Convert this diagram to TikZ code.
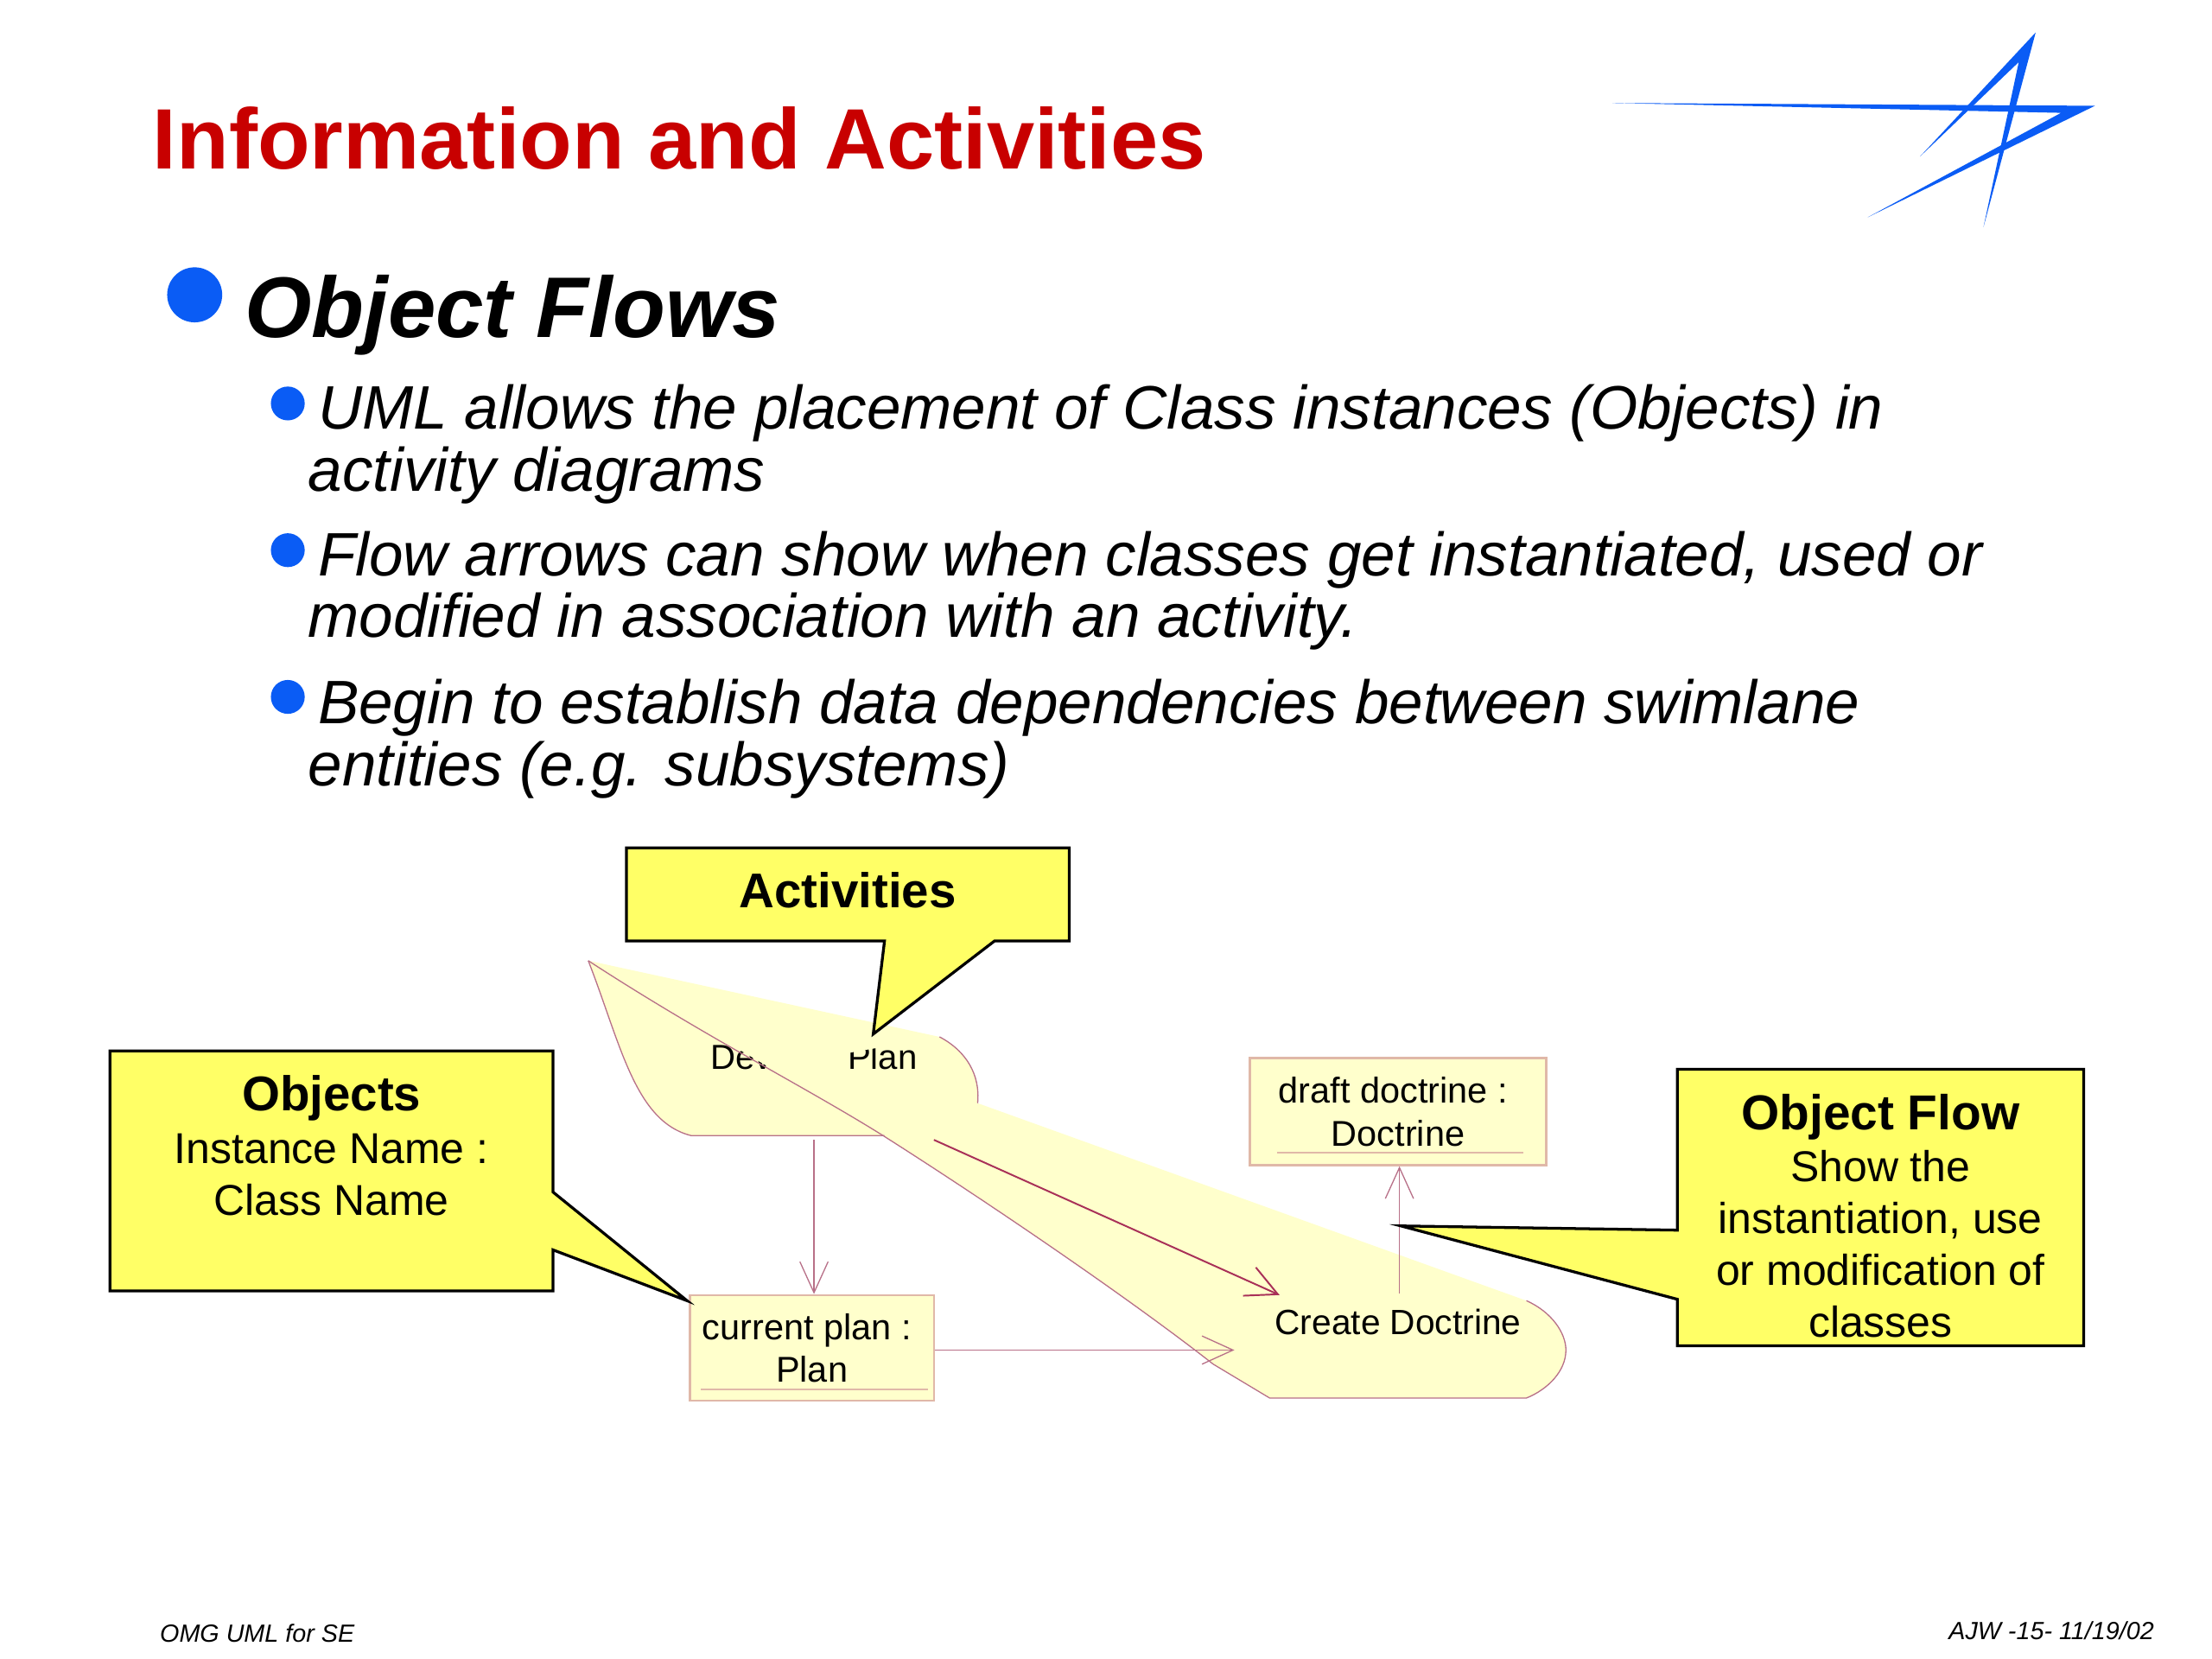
\documentclass[tikz,border=0pt]{standalone}
\usepackage{fontspec}
\setmainfont{Liberation Sans}
\usetikzlibrary{arrows.meta}
\definecolor{titlered}{HTML}{C80000}
\definecolor{bulletblue}{HTML}{0A5CF5}
\definecolor{calloutyellow}{HTML}{FFFF66}
\definecolor{paleyellow}{HTML}{FFFFCC}
\definecolor{umlline}{HTML}{B87088}
\definecolor{boxline}{HTML}{E0B8A8}
\definecolor{flowred}{HTML}{A83058}
\newcommand{\fs}[2]{\fontsize{#1}{#2}\selectfont}
\tikzset{
  x=0.5pt,y=-0.5pt,
  txt/.style={inner sep=0pt,anchor=base west,text=black},
  titletxt/.style={txt,font=\fs{30.4}{36}\bfseries,text=titlered},
  headtxt/.style={txt,font=\fs{30.5}{36}\bfseries\itshape},
  bodytxt/.style={txt,font=\fs{21.75}{22.5}\itshape},
  foottxt/.style={txt,font=\fs{8.8}{10}\itshape},
  bigbullet/.style={circle,fill=bulletblue,inner sep=0pt,minimum size=19.5pt},
  smallbullet/.style={circle,fill=bulletblue,inner sep=0pt,minimum size=12pt},
  callout/.style={draw=black,fill=calloutyellow,line width=1pt,line join=miter},
  callouttxt/.style={inner sep=0pt,anchor=north,align=center,text=black},
  objbox/.style={draw=boxline,fill=paleyellow,line width=0.7pt,inner sep=0pt,align=center,font=\fs{12.7}{15.2}},
  acttxt/.style={inner sep=0pt,anchor=base,text=black},
  umledge/.style={draw=umlline,line width=0.4pt},
  underl/.style={draw=boxline,line width=0.8pt},
  flow/.style={draw=umlline,line width=0.4pt,-{Straight Barb[length=11pt,width=10pt]}},
  strongflow/.style={draw=flowred,line width=0.6pt,-{Straight Barb[length=11pt,width=11pt]}},
  logo/.style={fill=bulletblue,draw=none}
}
\begin{document}
\begin{tikzpicture}
\useasboundingbox (0,0) rectangle (1568,1176);
\fill[white] (0,0) rectangle (1568,1176);
% logo
\fill[logo] (1143,73) -- (1485,75) -- (1324,154) -- (1461,80) -- cycle;
\fill[logo] (1361,111) -- (1443,23) -- (1406,161) -- (1431,44) -- cycle;
% headings
\node[titletxt] (title) at (108,120) {Information and Activities};
\node[bigbullet] (b0) at (138,209) {};
\node[headtxt] (head) at (173,239) {Object Flows};
\node[smallbullet] (b1) at (204,286) {};
\node[bodytxt] (l1) at (225,304) {UML allows the placement of Class instances (Objects) in};
\node[bodytxt] (l2) at (218,348) {activity diagrams};
\node[smallbullet] (b2) at (204,390) {};
\node[bodytxt] (l3) at (225,408) {Flow arrows can show when classes get instantiated, used or};
\node[bodytxt] (l4) at (218,452) {modified in association with an activity.};
\node[smallbullet] (b3) at (204,494) {};
\node[bodytxt] (l5) at (225,513) {Begin to establish data dependencies between swimlane};
\node[bodytxt] (l6) at (218,557) {entities (e.g. subsystems)};
% activity shapes
\fill[paleyellow] (417,681) .. controls (440,740) and (450,795) .. (490,805) -- (627,805) -- cycle;
\fill[paleyellow] (417,681) -- (666,735) .. controls (685,745) and (695,762) .. (693,782) -- (1082,922) .. controls (1100,930) and (1110,945) .. (1110,957)
  .. controls (1110,972) and (1097,985) .. (1082,991) -- (900,991) -- (860,967) .. controls (800,920) and (700,852) .. (626,805) .. controls (570,770) and (500,735) .. (417,681) -- cycle;
\node[acttxt,font=\fs{12.3}{14}] (develop) at (577,758) {Develop Plan};
\fill[paleyellow] (417,681) -- (655,737) -- (598,747) -- (592,768) -- (568,770) -- cycle;
\draw[umledge] (417,681) .. controls (440,740) and (450,795) .. (490,805) -- (627,805);
\draw[umledge] (417,681) .. controls (500,735) and (570,770) .. (626,805) .. controls (700,852) and (800,920) .. (860,967) -- (900,991) -- (1082,991) .. controls (1097,985) and (1110,972) .. (1110,957) .. controls (1110,945) and (1100,930) .. (1082,922);
\draw[umledge] (666,735) .. controls (685,745) and (695,762) .. (693,782);
\node[acttxt,font=\fs{12.45}{16}] (create) at (991,946) {Create Doctrine};
% objects
\node[objbox,minimum width=86.5pt,minimum height=37.5pt] (current) at (575.5,955.5) {current plan :\rule{3.5pt}{0pt}\\Plan};
\draw[underl] (497,985) -- (658,985);
\node[objbox,minimum width=105pt,minimum height=38pt] (draft) at (991,788) {draft doctrine :\rule{3.5pt}{0pt}\\Doctrine};
\draw[underl] (905,817) -- (1080,817);
% flows
\coordinate (devS) at (577,808);
\coordinate (devE) at (662,808);
\coordinate (crtW) at (875,957);
\coordinate (crtN) at (907,918);
\coordinate (crtT) at (992,917);
\draw[flow] (devS) -- (current.north -| devS);
\draw[flow] (current.east |- crtW) -- (crtW);
\draw[strongflow] (devE) -- (crtN);
\draw[flow] (crtT) -- (draft.south -| crtT);
% callouts
\draw[callout] (444,601) -- (758,601) -- (758,667) -- (705,667) -- (619,733) -- (627,667) -- (444,667) -- cycle;
\node[callouttxt,font=\fs{17.3}{20}\bfseries] (activities) at (601,618) {Activities};
\draw[callout] (78,745) -- (392,745) -- (392,845) -- (487,922) -- (392,886) -- (392,915) -- (78,915) -- cycle;
\node[callouttxt,font=\fs{15.3}{18.5}] (objects) at (235,762) {\textbf{\fs{17.3}{18.5}Objects}\\Instance Name :\\Class Name};
\draw[callout] (1189,758) -- (1477,758) -- (1477,954) -- (1189,954) -- (1189,921) -- (993,869) -- (1189,872) -- cycle;
\node[callouttxt,font=\fs{15.3}{18.4}] (objflow) at (1333,775) {\textbf{\fs{17.4}{18.4}Object Flow}\\Show the\\instantiation, use\\or modification of\\classes};
% footer
\node[foottxt] (f1) at (113,1164) {OMG UML for SE};
\node[foottxt] (f2) at (1381,1162) {AJW -15- 11/19/02};
\end{tikzpicture}
\end{document}
